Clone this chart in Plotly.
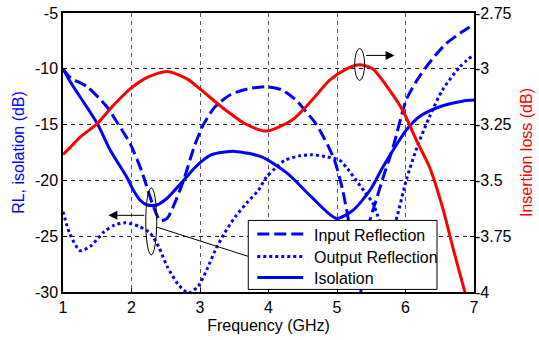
import plotly.graph_objects as go

# ---- data ----
f_in = [1.0, 1.11, 1.35, 1.64, 1.8, 1.98, 2.15, 2.3, 2.42, 2.52, 2.62, 2.76, 2.92, 3.05, 3.22, 3.45,
        3.7, 3.97, 4.2, 4.4, 4.53, 4.7, 4.87, 4.97, 5.08, 5.16, 5.25, 5.32, 5.4, 5.48, 5.57, 5.66,
        5.82, 6.01, 6.15, 6.3, 6.45, 6.59, 6.8, 7.0]
input_refl = [-10.0, -10.8, -11.6, -13.4, -14.9, -16.7, -19.2, -22.0, -23.6, -23.4, -22.2, -20.0,
              -16.9, -15.0, -13.4, -12.3, -11.8, -11.6, -11.9, -12.8, -13.7, -15.0, -16.9, -18.3,
              -20.8, -23.3, -27.0, -31.0, -27.0, -23.6, -21.8, -20.0, -17.0, -12.8, -11.2, -9.85,
              -8.7, -7.76, -6.8, -6.0]

f_out = [1.0, 1.1, 1.25, 1.4, 1.6, 1.75, 1.91, 2.1, 2.27, 2.4, 2.52, 2.68, 2.83, 2.97, 3.1, 3.22,
         3.35, 3.51, 3.7, 3.85, 3.97, 4.1, 4.24, 4.45, 4.63, 4.86, 5.04, 5.16, 5.28, 5.4, 5.52,
         5.62, 5.74, 5.86, 6.01, 6.17, 6.35, 6.54, 6.79, 7.0]
output_refl = [-22.8, -24.8, -26.3, -25.9, -24.6, -24.0, -23.8, -24.1, -24.7, -26.0, -27.7, -29.3,
               -30.1, -29.5, -28.0, -26.3, -24.8, -23.3, -21.9, -20.9, -19.7, -18.9, -18.2, -17.8,
               -17.7, -17.9, -18.2, -19.0, -20.0, -21.0, -22.0, -23.6, -25.5, -23.6, -20.0, -17.0,
               -14.3, -11.9, -9.85, -8.7]

f_iso = [1.0, 1.11, 1.5, 1.69, 1.93, 2.03, 2.13, 2.23, 2.37, 2.52, 2.76, 2.95, 3.17, 3.51, 3.9,
         4.28, 4.63, 4.99, 5.23, 5.48, 5.67, 5.91, 6.01, 6.2, 6.5, 6.83, 7.0]
isolation = [-10.0, -11.2, -14.9, -17.3, -19.7, -20.9, -21.8, -22.2, -22.2, -21.6, -20.0, -18.7,
             -17.7, -17.4, -17.9, -19.4, -21.5, -23.4, -22.7, -20.9, -18.8, -16.4, -15.5, -14.3,
             -13.4, -12.9, -12.8]

f_il = [1.0, 1.11, 1.25, 1.5, 1.69, 1.98, 2.23, 2.52, 2.81, 3.0, 3.32, 3.66, 3.97, 4.34, 4.63,
        4.89, 5.14, 5.33, 5.52, 5.77, 5.96, 6.16, 6.35, 6.54, 6.69, 6.86, 7.0]
insertion_loss = [-3.384, -3.351, -3.306, -3.246, -3.179, -3.09, -3.038, -3.012, -3.045, -3.09,
                  -3.172, -3.246, -3.279, -3.231, -3.142, -3.052, -3.0, -2.982, -3.0, -3.097,
                  -3.187, -3.321, -3.44, -3.62, -3.799, -3.993, -4.15]

x_ticks = [1, 2, 3, 4, 5, 6, 7]
left_ticks = [-5, -10, -15, -20, -25, -30]
left_ticktext = ["-5", "-10", "-15", "-20", "-25", "-30"]
right_ticks = [-2.75, -3, -3.25, -3.5, -3.75, -4]
right_ticktext = ["-2.75", "-3", "-3.25", "-3.5", "-3.75", "-4"]

legend_names = ["Input Reflection", "Output Reflection", "Isolation"]
legend_dashes = ["12px,5px", "3px,3px", "solid"]

BLUE = "#0000FF"
RED = "#FF0000"
FONT = "Liberation Sans, Arial, sans-serif"
FS = 16

fig = go.Figure()
fig.add_trace(go.Scatter(x=f_in, y=input_refl, name=legend_names[0], mode="lines", showlegend=False,
                         line=dict(color=BLUE, width=3, dash=legend_dashes[0], shape="spline", smoothing=0.7)))
fig.add_trace(go.Scatter(x=f_out, y=output_refl, name=legend_names[1], mode="lines", showlegend=False,
                         line=dict(color=BLUE, width=3, dash=legend_dashes[1], shape="spline", smoothing=0.7)))
fig.add_trace(go.Scatter(x=f_iso, y=isolation, name=legend_names[2], mode="lines", showlegend=False,
                         line=dict(color=BLUE, width=3, dash=legend_dashes[2], shape="spline", smoothing=0.7)))
fig.add_trace(go.Scatter(x=f_il, y=insertion_loss, name="Insertion loss", mode="lines",
                         yaxis="y2", showlegend=False,
                         line=dict(color=RED, width=3, shape="spline", smoothing=0.7)))

fig.update_layout(
    width=539, height=340,
    margin=dict(l=62.5, r=65, t=12.5, b=48.4, autoexpand=False),
    paper_bgcolor="white", plot_bgcolor="white",
    font=dict(family=FONT, size=FS, color="black"),
    xaxis=dict(range=[1, 7], tickvals=x_ticks, showline=True, linecolor="black", linewidth=1.5,
               mirror=True, showgrid=True, gridcolor="#555", griddash="4px,4px", gridwidth=1,
               ticks="inside", ticklen=4, tickcolor="black", zeroline=False, automargin=False,
               title=dict(text="Frequency (GHz)", font=dict(size=FS), standoff=5)),
    yaxis=dict(range=[-30, -5], tickvals=left_ticks, ticktext=left_ticktext, showline=True,
               linecolor="black", linewidth=1.5, mirror=True, showgrid=True, gridcolor="#222",
               griddash="4px,4px", gridwidth=1, ticks="inside", ticklen=4, tickcolor="black",
               zeroline=False, automargin=False,
               title=dict(text="RL, isolation (dB)", font=dict(size=FS, color=BLUE), standoff=6)),
    yaxis2=dict(range=[-4, -2.75], tickvals=right_ticks, ticktext=right_ticktext, overlaying="y",
                side="right", showgrid=False, zeroline=False, ticks="inside", ticklen=4,
                tickcolor="black", showline=False, automargin=False,
                title=dict(text="Insertion loss (dB)", font=dict(size=FS, color=RED), standoff=10)),
    showlegend=False,
)

# ---- legend box (drawn over the curves, like the reference) ----
fig.add_shape(type="rect", xref="paper", yref="paper", x0=0.4508, x1=0.910, y0=0.0093, y1=0.2565,
              fillcolor="white", line=dict(color="black", width=1), layer="above")
legend_rows = [0.2082, 0.1276, 0.0523]
for name, dash, yr in zip(legend_names, legend_dashes, legend_rows):
    fig.add_shape(type="line", xref="paper", yref="paper", x0=0.4727, x1=0.5845, y0=yr, y1=yr,
                  line=dict(color=BLUE, width=3, dash=dash), layer="above")
    fig.add_annotation(x=0.6063, y=yr - 0.004, xref="paper", yref="paper", text=name, showarrow=False,
                       xanchor="left", yanchor="middle", font=dict(size=FS, color="black"))

# ellipse + arrow pointing to left axis
fig.add_shape(type="circle", xref="x", yref="y", x0=2.208, x1=2.368, y0=-26.67, y1=-20.67,
              line=dict(color="black", width=1))
fig.add_annotation(x=1.662, y=-23.13, ax=2.208, ay=-23.13, xref="x", yref="y", axref="x", ayref="y",
                   text="", showarrow=True, arrowhead=2, arrowsize=1.8, arrowwidth=1, arrowcolor="black")
fig.add_shape(type="line", xref="x", yref="y", x0=2.376, y0=-24.2, x1=3.70, y1=-26.8,
              line=dict(color="black", width=1))
# ellipse + arrow pointing to right axis
fig.add_shape(type="circle", xref="x", yref="y", x0=5.258, x1=5.403, y0=-11.04, y1=-8.18,
              line=dict(color="black", width=1))
fig.add_annotation(x=5.84, y=-8.8, ax=5.403, ay=-8.8, xref="x", yref="y", axref="x", ayref="y",
                   text="", showarrow=True, arrowhead=2, arrowsize=1.8, arrowwidth=1, arrowcolor="black")

# remove the browser's default 8px body margin so the figure fills the window
fig.write_html("out.html", config={"displayModeBar": False},
               post_script="document.body.style.margin='0';")
